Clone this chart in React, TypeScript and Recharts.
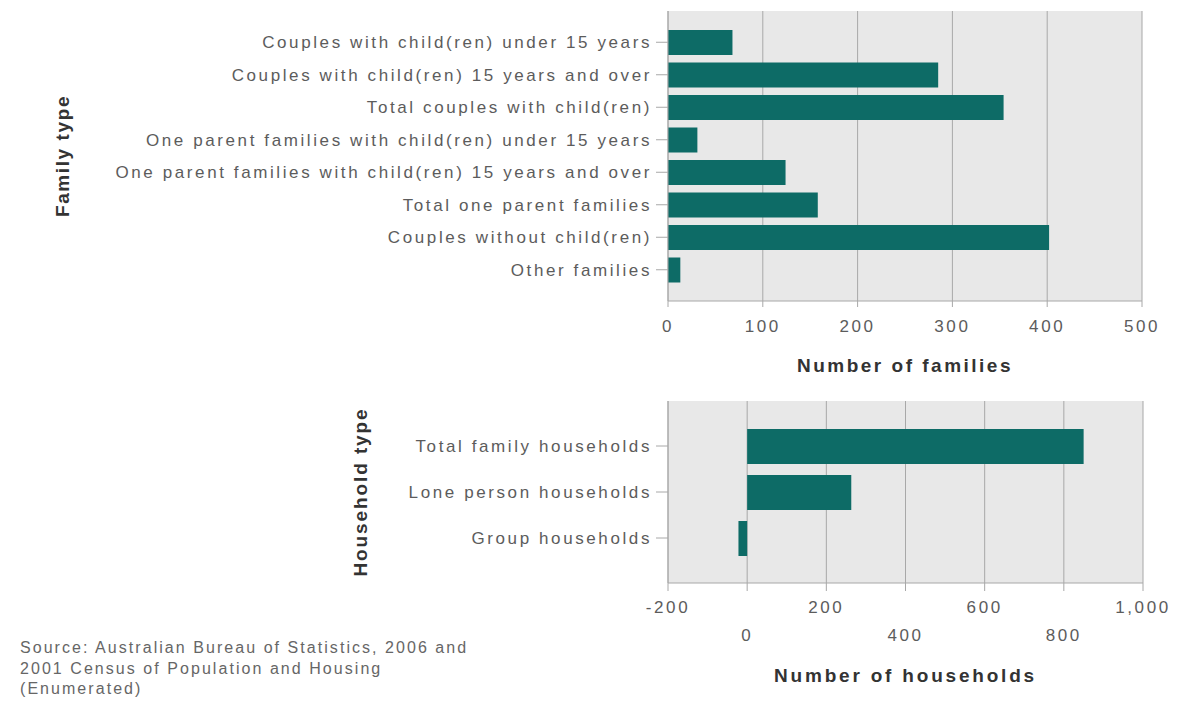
import React from 'react';
import { BarChart, Bar, XAxis, YAxis, CartesianGrid, Label } from 'recharts';

const familyTypes = [
  'Couples with child(ren) under 15 years',
  'Couples with child(ren) 15 years and over',
  'Total couples with child(ren)',
  'One parent families with child(ren) under 15 years',
  'One parent families with child(ren) 15 years and over',
  'Total one parent families',
  'Couples without child(ren)',
  'Other families',
];
const familyValues = [68, 285, 354, 31, 124, 158, 402, 13];
const familyTicks = [0, 100, 200, 300, 400, 500];

const householdTypes = ['Total family households', 'Lone person households', 'Group households'];
const householdValues = [850, 263, -22];
const householdTicks = [-200, 0, 200, 400, 600, 800, 1000];

const familyData = familyTypes.map((name, i) => ({ name, value: familyValues[i] }));
const householdData = householdTypes.map((name, i) => ({ name, value: householdValues[i] }));

const FONT = '"Liberation Sans", Arial, sans-serif';
const BAR = '#0d6b66';
const PLOT_BG = '#e8e8e8';
const GRID = '#a8a8a8';
const TICK_TEXT = '#5c5c5c';
const TITLE = '#333333';

const tickStyle = { fontFamily: FONT, fontSize: 17, fill: TICK_TEXT, letterSpacing: 2.6 };
const titleStyle = { fontFamily: FONT, fontSize: 19, fontWeight: 700, fill: TITLE, letterSpacing: 2.5 };

const fmt = (v: number) => v.toLocaleString('en-US');

const StaggerTick = (props: any) => {
  const { x, y, payload, index } = props;
  const dy = index % 2 === 0 ? 20 : 48;
  return (
    <text x={x} y={y + dy} textAnchor="middle" style={tickStyle as any}>
      {fmt(payload.value)}
    </text>
  );
};

export default function App() {
  return (
    <div style={{ position: 'absolute', left: 0, top: 0, width: 1178, height: 704, background: '#fff', fontFamily: FONT }}>
      <div style={{ position: 'absolute', left: 0, top: 0 }}>
        <BarChart
          width={1178}
          height={390}
          layout="vertical"
          data={familyData}
          margin={{ top: 11, right: 36, left: 0, bottom: 59 }}
        >
          <CartesianGrid horizontal={false} stroke={GRID} fill={PLOT_BG} />
          <XAxis
            type="number"
            domain={[0, 500]}
            ticks={familyTicks}
            height={30}
            tickSize={6}
            tickMargin={13}
            stroke={GRID}
            tick={tickStyle}
          >
            <Label value="Number of families" position="bottom" offset={28} style={titleStyle} />
          </XAxis>
          <XAxis
            xAxisId="top"
            orientation="top"
            type="number"
            domain={[0, 500]}
            height={0}
            tick={false}
            tickLine={false}
            stroke={GRID}
          />
          <YAxis
            type="category"
            dataKey="name"
            width={668}
            tickSize={12}
            tickMargin={4}
            stroke={GRID}
            tick={tickStyle}
            interval={0}
            padding={{ top: 15, bottom: 15 }}
          >
            <Label
              value="Family type"
              angle={-90}
              position="insideLeft"
              offset={62}
              style={{ ...titleStyle, textAnchor: 'middle', letterSpacing: 1.6 }}
            />
          </YAxis>
          <Bar dataKey="value" fill={BAR} barSize={25} isAnimationActive={false} />
        </BarChart>
      </div>
      <div style={{ position: 'absolute', left: 0, top: 390 }}>
        <BarChart
          width={1178}
          height={314}
          layout="vertical"
          data={householdData}
          margin={{ top: 11, right: 35, left: 0, bottom: 61 }}
        >
          <CartesianGrid horizontal={false} stroke={GRID} fill={PLOT_BG} />
          <XAxis
            type="number"
            domain={[-200, 1000]}
            ticks={householdTicks}
            height={60}
            tickSize={8}
            tickMargin={2}
            stroke={GRID}
            tick={<StaggerTick />}
            interval={0}
          >
            <Label value="Number of households" position="bottom" offset={26} style={{ ...titleStyle, letterSpacing: 2.8 }} />
          </XAxis>
          <XAxis
            xAxisId="top"
            orientation="top"
            type="number"
            domain={[-200, 1000]}
            height={0}
            tick={false}
            tickLine={false}
            stroke={GRID}
          />
          <YAxis
            type="category"
            dataKey="name"
            width={668}
            tickSize={12}
            tickMargin={4}
            stroke={GRID}
            tick={tickStyle}
            interval={0}
            padding={{ top: 22, bottom: 22 }}
          >
            <Label
              value="Household type"
              angle={-90}
              position="insideLeft"
              offset={360}
              style={{ ...titleStyle, textAnchor: 'middle', letterSpacing: 1.9 }}
            />
          </YAxis>
          <Bar dataKey="value" fill={BAR} barSize={35} isAnimationActive={false} />
        </BarChart>
      </div>
      <div
        style={{
          position: 'absolute',
          left: 20,
          top: 638,
          fontSize: 16,
          lineHeight: '20.5px',
          letterSpacing: 2.05,
          color: '#666',
          fontFamily: FONT,
        }}
      >
        Source: Australian Bureau of Statistics, 2006 and
        <br />
        2001 Census of Population and Housing
        <br />
        (Enumerated)
      </div>
    </div>
  );
}
